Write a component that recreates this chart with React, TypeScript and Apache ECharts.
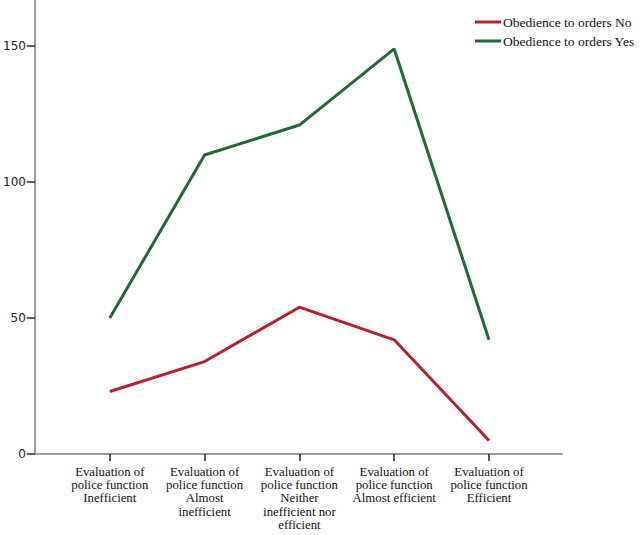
import React, { useEffect, useRef } from "react";
import * as echarts from "echarts";

const categories = [
  "Evaluation of\npolice function\nInefficient",
  "Evaluation of\npolice function\nAlmost\ninefficient",
  "Evaluation of\npolice function\nNeither\ninefficient nor\nefficient",
  "Evaluation of\npolice function\nAlmost efficient",
  "Evaluation of\npolice function\nEfficient",
];
const seriesNames = ["Obedience to orders No", "Obedience to orders Yes"];
const valuesNo = [23, 34, 54, 42, 5];
const valuesYes = [50, 110, 121, 149, 42];
const yTicks = [0, 50, 100, 150];
const colors = ["#b3212d", "#1d6a34"];

export default function App() {
  const ref = useRef<HTMLDivElement>(null);
  useEffect(() => {
    if (!ref.current) return;
    const chart = echarts.init(ref.current, undefined, { renderer: "svg" });
    const idx = categories.map((_, i) => i);
    chart.setOption({
      animation: false,
      backgroundColor: "#ffffff",
      grid: { left: 33, right: 78, top: 0, bottom: 81, containLabel: false },
      legend: {
        orient: "vertical",
        left: 470,
        top: 10,
        icon: "rect",
        itemWidth: 26,
        itemHeight: 3,
        itemGap: 5,
        data: seriesNames,
        textStyle: {
          fontFamily: "Liberation Serif",
          fontSize: 13.5,
          lineHeight: 14,
          color: "#111",
          padding: [0, 0, 0, -3],
        },
      },
      xAxis: {
        type: "value",
        min: -0.79,
        max: 4.77,
        splitLine: { show: false },
        axisLine: { show: true, onZero: false, lineStyle: { color: "#9a9a9a", width: 2 } },
        axisTick: {
          show: true,
          customValues: idx,
          length: 7,
          lineStyle: { color: "#222", width: 1.5 },
        },
        axisLabel: {
          customValues: idx,
          formatter: (v: number) => categories[Math.round(v)] ?? "",
          fontFamily: "Liberation Serif",
          fontSize: 12.8,
          lineHeight: 13.3,
          color: "#111",
          margin: 11,
        },
      },
      yAxis: {
        type: "value",
        min: 0,
        max: 167,
        splitLine: { show: false },
        axisLine: { show: true, onZero: false, lineStyle: { color: "#9a9a9a", width: 2 } },
        axisTick: {
          show: true,
          customValues: yTicks,
          length: 8,
          lineStyle: { color: "#222", width: 1.5 },
        },
        axisLabel: {
          customValues: yTicks,
          fontFamily: "DejaVu Sans",
          fontSize: 12,
          color: "#222",
          margin: 9,
        },
      },
      series: [
        {
          name: seriesNames[0],
          type: "line",
          symbol: "none",
          data: valuesNo.map((v, i) => [i, v]),
          lineStyle: { color: colors[0], width: 3 },
          itemStyle: { color: colors[0] },
        },
        {
          name: seriesNames[1],
          type: "line",
          symbol: "none",
          data: valuesYes.map((v, i) => [i, v]),
          lineStyle: { color: colors[1], width: 3 },
          itemStyle: { color: colors[1] },
        },
      ],
    });
    return () => chart.dispose();
  }, []);
  return (
    <div
      ref={ref}
      style={{ position: "absolute", left: 0, top: 0, width: 640, height: 535 }}
    />
  );
}
